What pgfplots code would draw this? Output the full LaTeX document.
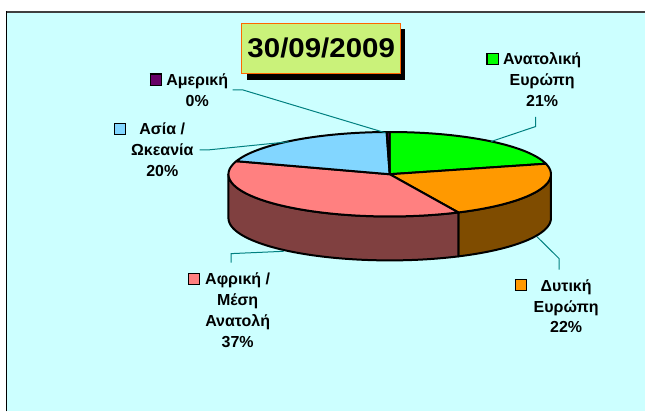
\documentclass[border=0pt]{standalone}
\usepackage{fontspec}
\setmainfont{Liberation Sans}
\usepackage{graphicx}
\usepackage{pgfplots}
\usepackage{pgfplotstable}
\pgfplotsset{compat=1.18}

\definecolor{bgcyan}{RGB}{204,255,255}
\definecolor{cgreen}{RGB}{0,255,0}
\definecolor{corange}{RGB}{255,153,0}
\definecolor{corangeside}{RGB}{127,76,0}
\definecolor{cpink}{RGB}{255,128,128}
\definecolor{cpinkside}{RGB}{128,64,64}
\definecolor{cblue}{RGB}{130,214,255}
\definecolor{camer}{RGB}{102,0,102}
\definecolor{cteal}{RGB}{0,128,128}
\definecolor{ctitle}{RGB}{202,242,122}
\definecolor{ctitleborder}{RGB}{255,102,0}
\definecolor{cframe}{RGB}{64,64,64}

% share of each region (percent)
\pgfplotstableread{
region value
EastEurope 21.0
WestEurope 22.0
AfricaMiddleEast 37.0
AsiaOceania 19.7
America 0.3
}\piedata

\pgfplotstablegetelem{0}{value}\of\piedata \pgfmathsetmacro\aA{3.6*\pgfplotsretval}
\pgfplotstablegetelem{1}{value}\of\piedata \pgfmathsetmacro\aB{\aA+3.6*\pgfplotsretval}
\pgfplotstablegetelem{2}{value}\of\piedata \pgfmathsetmacro\aC{\aB+3.6*\pgfplotsretval}
\pgfplotstablegetelem{3}{value}\of\piedata \pgfmathsetmacro\aD{\aC+3.6*\pgfplotsretval}
\pgfplotstablegetelem{4}{value}\of\piedata \pgfmathsetmacro\aE{\aD+3.6*\pgfplotsretval}

\def\cx{390.3}\def\cy{174.5}\def\rx{161.5}\def\ry{42.3}\def\dd{44}

\newcommand\pieWedge[3]{%
 \addplot[draw=black, line width=2pt, line join=round, fill=#1, variable=\t,
   samples at={-1,0,1,...,60,100}]
 ({(\t<0 || \t>80) ? \cx : \cx+\rx*sin(#2+(#3-#2)*\t/60)},
  {(\t<0 || \t>80) ? \cy : \cy-\ry*cos(#2+(#3-#2)*\t/60)});
}
\newcommand\pieSide[3]{%
 \addplot[draw=black, line width=2pt, line join=round, fill=#1, variable=\t,
   samples at={0,1,...,60,100,101,...,160}]
 ({(\t<80) ? \cx+\rx*sin(#2+(#3-#2)*\t/60) : \cx+\rx*sin(#3-(#3-#2)*(\t-100)/60)},
  {(\t<80) ? \cy-\ry*cos(#2+(#3-#2)*\t/60) : \cy+\dd-\ry*cos(#3-(#3-#2)*(\t-100)/60)}) -- cycle;
}
\newcommand\key[2]{\llap{\raisebox{0.8pt}{\fboxsep=0pt\fboxrule=1.1pt\fcolorbox{black}{#1}{\rule{0pt}{10pt}\hspace{10pt}}}\hspace{#2}}}
\newcommand\labfont{\fontsize{16}{21}\selectfont\bfseries}

\begin{document}
\begin{tikzpicture}
\fill[white] (0pt,0pt) rectangle (646pt,412pt);
\fill[bgcyan] (7pt,0pt) rectangle (646pt,400pt);
\draw[cframe, line width=2pt] (6pt,400pt) -- (646pt,400pt);
\draw[black, line width=1.5pt] (6.5pt,0pt) -- (6.5pt,401pt);
\begin{axis}[hide axis, scale only axis, width=646pt, height=412pt,
  xmin=0, xmax=646, ymin=0, ymax=412, y dir=reverse, clip=false]
 % visible side walls
 \pieSide{corangeside}{90}{\aB}
 \pieSide{cpinkside}{\aB}{270}
 % top faces
 \pieWedge{cgreen}{0}{\aA}
 \pieWedge{corange}{\aA}{\aB}
 \pieWedge{cpink}{\aB}{\aC}
 \pieWedge{cblue}{\aC}{\aD}
 \pieWedge{camer}{\aD}{\aE}
 % leader lines
 \addplot[cteal, line width=1pt] coordinates {(233,90) (243,90) (386,133)};
 \addplot[cteal, line width=1pt] coordinates {(200,150) (210,150) (289,142)};
 \addplot[cteal, line width=1pt] coordinates {(536.5,117) (536.5,126.7) (492,141.7)};
 \addplot[cteal, line width=1pt] coordinates {(231.6,263) (231.6,254) (284,251.7)};
 \addplot[cteal, line width=1pt] coordinates {(560,270) (560,259) (537.7,237)};
 % labels (anchored at the baseline of the last line)
 \node[anchor=base, align=center, font=\labfont] at (axis cs:197.5,106.5)
   {\key{camer}{4.5pt}Αμερική\\0\%};
 \node[anchor=base, align=center, font=\labfont] at (axis cs:162.5,177)
   {\key{cblue}{13pt}Ασία /\\Ωκεανία\\20\%};
 \node[anchor=base, align=center, font=\labfont] at (axis cs:543,107)
   {\key{cgreen}{4.5pt}Ανατολική\\Ευρώπη\\21\%};
 \node[anchor=base, align=center, font=\labfont] at (axis cs:238,348)
   {\key{cpink}{5pt}Αφρική /\\Μέση\\Ανατολή\\37\%};
 \node[anchor=base, align=center, font=\labfont] at (axis cs:567,333.5)
   {\key{corange}{13.5pt}Δυτική\\Ευρώπη\\22\%};
\end{axis}
% title box
\fill[black] (247pt,332pt) rectangle (406pt,383pt);
\draw[ctitleborder, fill=ctitle, line width=0.8pt] (242pt,338pt) rectangle (401pt,389pt);
\node[font=\fontsize{29.5}{30}\selectfont\bfseries] at (321.7pt,363.7pt) {\scalebox{1}[0.92]{30/09/2009}};
\end{tikzpicture}
\end{document}
